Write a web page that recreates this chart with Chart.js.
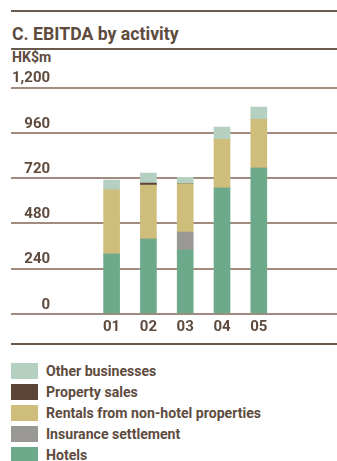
<!DOCTYPE html>
<html>
<head>
<meta charset="utf-8">
<script src="https://cdn.jsdelivr.net/npm/chart.js@4/dist/chart.umd.min.js"></script>
<style>
    body { margin: 0; background: #fff; width: 337px; height: 461px; overflow: hidden; position: relative; font-family: Roboto, "Liberation Sans", sans-serif; color: #5e4b3e; }
    .rule { position: absolute; left: 11px; right: 0; height: 2px; background: #6b5a4e; }
    .estreito { transform: scaleX(0.94); transform-origin: left center; white-space: nowrap; }
    #titulo { position: absolute; left: 12px; top: 22px; font-size: 19px; font-weight: bold; transform: scaleX(0.93); }
    #unidade { position: absolute; left: 12px; top: 48px; font-size: 15px; font-weight: bold; }
    #grafico { position: absolute; left: 0; top: 60px; }
    #legenda { position: absolute; left: 11px; top: 360px; }
    .item { height: 21px; display: flex; align-items: center; font-size: 15px; font-weight: bold; }
    .caixa { width: 27px; height: 16px; margin-right: 8px; flex: none; }
</style>
</head>
<body>
<div class="rule" style="top:10px"></div>
<div id="titulo" class="estreito">C. EBITDA by activity</div>
<div class="rule" style="top:48px"></div>
<div id="unidade" class="estreito">HK$m</div>
<div class="rule" style="top:343px"></div>
<canvas id="grafico" width="337" height="280"></canvas>
<div id="legenda"></div>
<script>
const anos = ['01', '02', '03', '04', '05'];
const hotels = [318, 397, 339, 667, 773];
const seguro = [0, 0, 95, 0, 0];
const alugueis = [340, 286, 256, 259, 259];
const vendas = [-10, 10, 0, 0, 0];
const outros = [51, 53, 34, 64, 64];
const yTicks = [0, 240, 480, 720, 960, 1200];

// ordem de empilhamento: de baixo para cima
const series = [
    { label: 'Hotels', data: hotels, cor: '#6daa8b' },
    { label: 'Insurance settlement', data: seguro, cor: '#999894' },
    { label: 'Rentals from non-hotel properties', data: alugueis, cor: '#cfbd7c' },
    { label: 'Property sales', data: vendas, cor: '#5c4536' },
    { label: 'Other businesses', data: outros, cor: '#b5d0c0' }
];

// legenda em html, na ordem inversa
const legenda = document.getElementById('legenda');
series.slice().reverse().forEach(function (s) {
    const item = document.createElement('div');
    item.className = 'item';
    item.innerHTML = '<div class="caixa" style="background:' + s.cor + '"></div><span class="estreito">' + s.label + '</span>';
    legenda.appendChild(item);
});

const fonte = { family: 'Roboto, "Liberation Sans", sans-serif', size: 15, weight: 'bold' };

new Chart(document.getElementById('grafico').getContext('2d'), {
    type: 'bar',
    data: {
        datasets: series.map(function (s) {
            return {
                label: s.label,
                data: s.data.map(function (v, i) { return { x: i + 1, y: v }; }),
                backgroundColor: s.cor,
                borderWidth: 0,
                barThickness: 16
            };
        })
    },
    options: {
        responsive: false,
        animation: false,
        layout: { padding: { left: 11, right: 0, top: 27.5, bottom: 0 } },
        plugins: { legend: { display: false }, tooltip: { enabled: false } },
        scales: {
            x: {
                type: 'linear',
                stacked: true,
                min: -0.848,
                max: 6.239,
                afterBuildTicks: function (scale) {
                    scale.ticks = anos.map(function (a, i) { return { value: i + 1 }; });
                },
                afterFit: function (scale) { scale.height = 26; },
                grid: { display: false },
                border: { display: false },
                ticks: {
                    color: '#5e4b3e',
                    font: fonte,
                    padding: -4,
                    maxRotation: 0,
                    callback: function (v) { return anos[v - 1]; }
                }
            },
            y: {
                stacked: true,
                min: 0,
                max: 1200,
                afterBuildTicks: function (scale) {
                    scale.ticks = yTicks.map(function (v) { return { value: v }; });
                },
                afterFit: function (scale) { scale.width = 0; },
                grid: { color: '#a08b7e', lineWidth: 2, drawTicks: false },
                border: { display: false },
                ticks: {
                    mirror: true,
                    crossAlign: 'far',
                    padding: 1,
                    labelOffset: -9,
                    color: '#5e4b3e',
                    font: fonte,
                    callback: function (v) { return v.toLocaleString('en-US'); }
                }
            }
        }
    }
});
</script>
</body>
</html>
